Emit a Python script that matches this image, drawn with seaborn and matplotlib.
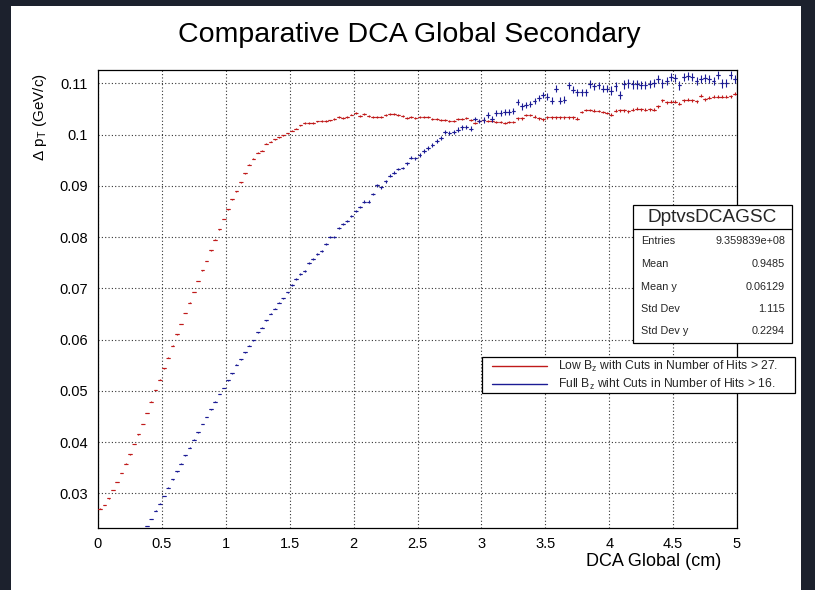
import numpy as np
import pandas as pd
import matplotlib
matplotlib.use("Agg")
import matplotlib.pyplot as plt
import seaborn as sns
from matplotlib.patches import Rectangle
from matplotlib.lines import Line2D
from matplotlib.ticker import MultipleLocator

# ---- profile binning: 150 bins over the DCA range ----
x_min, x_max, n_bins = 0.0, 5.0, 150

# mean delta pT per DCA bin, low B_z field (bins 0..149)
low_bz = [
    0.0270, 0.0277, 0.0290, 0.0306, 0.0322, 0.0340, 0.0358, 0.0376, 0.0396, 0.0415,
    0.0435, 0.0457, 0.0479, 0.0502, 0.0522, 0.0544, 0.0565, 0.0588, 0.0610, 0.0630,
    0.0652, 0.0672, 0.0693, 0.0714, 0.0735, 0.0753, 0.0774, 0.0795, 0.0815, 0.0835,
    0.0854, 0.0874, 0.0890, 0.0907, 0.0925, 0.0941, 0.0953, 0.0965, 0.0969, 0.0982,
    0.0986, 0.0991, 0.0995, 0.0999, 0.1003, 0.1008, 0.1012, 0.1018, 0.1023, 0.1023,
    0.1023, 0.1026, 0.1027, 0.1027, 0.1028, 0.1031, 0.1034, 0.1033, 0.1034, 0.1039,
    0.1042, 0.1036, 0.1040, 0.1037, 0.1035, 0.1034, 0.1034, 0.1038, 0.1040, 0.1040,
    0.1039, 0.1037, 0.1033, 0.1034, 0.1033, 0.1034, 0.1035, 0.1035, 0.1031, 0.1030,
    0.1029, 0.1028, 0.1027, 0.1026, 0.1030, 0.1030, 0.1033, 0.1028, 0.1023, 0.1027,
    0.1029, 0.1027, 0.1027, 0.1025, 0.1025, 0.1023, 0.1025, 0.1025, 0.1032, 0.1032,
    0.1038, 0.1038, 0.1035, 0.1032, 0.1030, 0.1034, 0.1034, 0.1034, 0.1034, 0.1034,
    0.1034, 0.1034, 0.1031, 0.1044, 0.1048, 0.1048, 0.1047, 0.1046, 0.1044, 0.1042,
    0.1039, 0.1047, 0.1048, 0.1048, 0.1046, 0.1049, 0.1051, 0.1050, 0.1049, 0.1050,
    0.1049, 0.1055, 0.1067, 0.1063, 0.1064, 0.1064, 0.1060, 0.1067, 0.1068, 0.1067,
    0.1065, 0.1076, 0.1069, 0.1072, 0.1074, 0.1074, 0.1074, 0.1074, 0.1075, 0.1080,
]

# mean delta pT per DCA bin, full B_z field (bins 11..149; lower bins fall below the frame)
full_bz_first_bin = 11
full_bz = [
    0.0236, 0.0250, 0.0266, 0.0280, 0.0295, 0.0311, 0.0327, 0.0343, 0.0358,
    0.0374, 0.0389, 0.0405, 0.0419, 0.0435, 0.0449, 0.0464, 0.0479, 0.0494, 0.0506,
    0.0521, 0.0534, 0.0551, 0.0562, 0.0575, 0.0588, 0.0599, 0.0614, 0.0623, 0.0638,
    0.0650, 0.0660, 0.0672, 0.0681, 0.0692, 0.0707, 0.0718, 0.0728, 0.0734, 0.0750,
    0.0757, 0.0768, 0.0773, 0.0786, 0.0800, 0.0800, 0.0817, 0.0825, 0.0831, 0.0841,
    0.0851, 0.0859, 0.0869, 0.0869, 0.0884, 0.0901, 0.0897, 0.0909, 0.0920, 0.0926,
    0.0933, 0.0935, 0.0944, 0.0955, 0.0954, 0.0961, 0.0968, 0.0974, 0.0980, 0.0988,
    0.0994, 0.1005, 0.1004, 0.1006, 0.1010, 0.1014, 0.1015, 0.1012, 0.1031, 0.1027,
    0.1028, 0.1038, 0.1030, 0.1043, 0.1042, 0.1045, 0.1045, 0.1046, 0.1064, 0.1055,
    0.1058, 0.1060, 0.1066, 0.1072, 0.1078, 0.1074, 0.1066, 0.1090, 0.1066, 0.1068,
    0.1096, 0.1088, 0.1083, 0.1083, 0.1083, 0.1099, 0.1094, 0.1096, 0.1090, 0.1090,
    0.1086, 0.1094, 0.1078, 0.1098, 0.1100, 0.1098, 0.1098, 0.1097, 0.1097, 0.1099,
    0.1101, 0.1108, 0.1100, 0.1104, 0.1112, 0.1110, 0.1096, 0.1112, 0.1114, 0.1113,
    0.1105, 0.1109, 0.1110, 0.1108, 0.1105, 0.1117, 0.1100, 0.1101, 0.1117, 0.1108,
]

# typical error on the mean, one value per 0.5 cm slice of DCA
low_bz_err_per_slice = [0.00005, 0.00005, 0.0001, 0.00015, 0.0002, 0.0002, 0.00025, 0.00025, 0.0003, 0.0003]
full_bz_err_per_slice = [0.00005, 0.00005, 0.0001, 0.0002, 0.00025, 0.0004, 0.0006, 0.0007, 0.0008, 0.0008]

series_labels = [r"Low B$_{\rm z}$ with Cuts in Number of Hits > 27.",
                 r"Full B$_{\rm z}$ wiht Cuts in Number of Hits > 16."]
series_colors = ["#c01a1a", "#1b1b94"]

stats_title = "DptvsDCAGSC"
stats_names = ["Entries", "Mean", "Mean y", "Std Dev", "Std Dev y"]
stats_values = ["9.359839e+08", "0.9485", "0.06129", "1.115", "0.2294"]

x_ticks_major, x_ticks_minor = 0.5, 0.1
y_ticks_major, y_ticks_minor = 0.01, 0.002

# ---- assemble a long-form table ----
bin_w = (x_max - x_min) / n_bins
centers = x_min + (np.arange(n_bins) + 0.5) * bin_w
slice_idx = np.minimum((centers / 0.5).astype(int), 9)

low_df = pd.DataFrame({"x": centers, "y": low_bz,
                       "err": np.array(low_bz_err_per_slice)[slice_idx],
                       "series": series_labels[0]})
fb_idx = np.arange(full_bz_first_bin, n_bins)
full_df = pd.DataFrame({"x": centers[fb_idx], "y": full_bz,
                        "err": np.array(full_bz_err_per_slice)[slice_idx[fb_idx]],
                        "series": series_labels[1]})
df = pd.concat([low_df, full_df], ignore_index=True)

# ---- styling ----
sns.set_theme(style="white")
plt.rcParams["font.family"] = ["Liberation Sans", "DejaVu Sans"]
plt.rcParams["mathtext.fontset"] = "custom"
plt.rcParams["mathtext.rm"] = "Liberation Sans"
plt.rcParams["mathtext.it"] = "Liberation Sans:italic"

W, H = 815, 590
fig = plt.figure(figsize=(W / 100, H / 100), dpi=100, facecolor="#1c212d")

def fx(px):
    return px / W

def fy(py):
    return 1 - py / H

# white canvas
fig.add_artist(Rectangle((fx(11), 0), fx(801) - fx(11), fy(6), transform=fig.transFigure,
                         facecolor="white", edgecolor="none", zorder=0))

ax_l, ax_r, ax_t, ax_b = 98, 737, 70, 528
ax = fig.add_axes([fx(ax_l), fy(ax_b), fx(ax_r) - fx(ax_l), fy(ax_t) - fy(ax_b)])
ax.set_facecolor("white")

palette = dict(zip(series_labels, series_colors))
sns.scatterplot(data=df, x="x", y="y", hue="series", palette=palette, marker="_",
                s=7, linewidth=0.8, legend=False, ax=ax, zorder=3)
for lab, col in zip(series_labels, series_colors):
    d = df[df["series"] == lab]
    ax.errorbar(d["x"], d["y"], yerr=d["err"], xerr=bin_w * 0.4, fmt="none",
                ecolor=col, elinewidth=0.8, capsize=0, zorder=3)

ax.set_xlim(x_min, x_max)
ax.set_ylim(0.02323, 0.11262)
ax.xaxis.set_major_locator(MultipleLocator(x_ticks_major))
ax.xaxis.set_minor_locator(MultipleLocator(x_ticks_minor))
ax.yaxis.set_major_locator(MultipleLocator(y_ticks_major))
ax.yaxis.set_minor_locator(MultipleLocator(y_ticks_minor))
ax.xaxis.set_major_formatter(matplotlib.ticker.FuncFormatter(lambda v, p: f"{v:g}"))
ax.yaxis.set_major_formatter(matplotlib.ticker.FuncFormatter(lambda v, p: f"{v:g}"))

ax.tick_params(axis="x", which="major", direction="in", length=9.9, width=0.9,
               pad=6.5, labelsize=10.5, colors="black")
ax.tick_params(axis="x", which="minor", direction="in", length=4.9, width=0.9)
ax.tick_params(axis="y", which="major", direction="in", length=13.7, width=0.9,
               pad=7.2, labelsize=10.5, colors="black")
ax.tick_params(axis="y", which="minor", direction="in", length=6.8, width=0.9)
ax.grid(True, which="major", linestyle=(0, (1, 2)), linewidth=0.8, color="#333333")
for sp in ax.spines.values():
    sp.set_color("black")
    sp.set_linewidth(0.9)
ax.set_xlabel("")
ax.set_ylabel("")

# titles
fig.text(fx(409), fy(42), "Comparative DCA Global Secondary", ha="center", va="baseline",
         fontsize=20.5, color="black")
fig.text(fx(721), fy(562), "DCA Global (cm)", ha="right", va="center", fontsize=13, color="black")
fig.text(fx(40), fy(73), "Δ p$_{\\rm T}$ (GeV/c)", ha="center", va="top", rotation=90,
         fontsize=11, color="black")

# statistics box
sb_l, sb_r, sb_t, sb_b, sb_head = 633, 792, 205, 343, 229
fig.add_artist(Rectangle((fx(sb_l), fy(sb_b)), fx(sb_r) - fx(sb_l), fy(sb_t) - fy(sb_b),
                         transform=fig.transFigure, facecolor="white", edgecolor="black",
                         linewidth=0.9, zorder=5))
fig.add_artist(Line2D([fx(sb_l), fx(sb_r)], [fy(sb_head), fy(sb_head)],
                      transform=fig.transFigure, color="black", linewidth=0.9, zorder=6))
fig.text(fx((sb_l + sb_r) / 2), fy(217), stats_title, ha="center", va="center",
         fontsize=13.7, zorder=7)
row_y = [241, 264, 287, 309, 331]
for name, val, ry in zip(stats_names, stats_values, row_y):
    fig.text(fx(sb_l + 8), fy(ry), name, ha="left", va="center", fontsize=7.8, zorder=7)
    fig.text(fx(sb_r - 7), fy(ry), val, ha="right", va="center", fontsize=7.8, zorder=7)

# legend box
lg_l, lg_r, lg_t, lg_b = 482, 795, 357, 393
fig.add_artist(Rectangle((fx(lg_l), fy(lg_b)), fx(lg_r) - fx(lg_l), fy(lg_t) - fy(lg_b),
                         transform=fig.transFigure, facecolor="white", edgecolor="black",
                         linewidth=0.9, zorder=5))
for lab, col, ly in zip(series_labels, series_colors, [366, 384]):
    fig.add_artist(Line2D([fx(492), fx(547)], [fy(ly), fy(ly)], transform=fig.transFigure,
                          color=col, linewidth=1.0, zorder=6))
    fig.text(fx(558), fy(ly), lab, ha="left", va="center", fontsize=8.75, zorder=7)

fig.savefig("out.png", dpi=100, facecolor=fig.get_facecolor())
